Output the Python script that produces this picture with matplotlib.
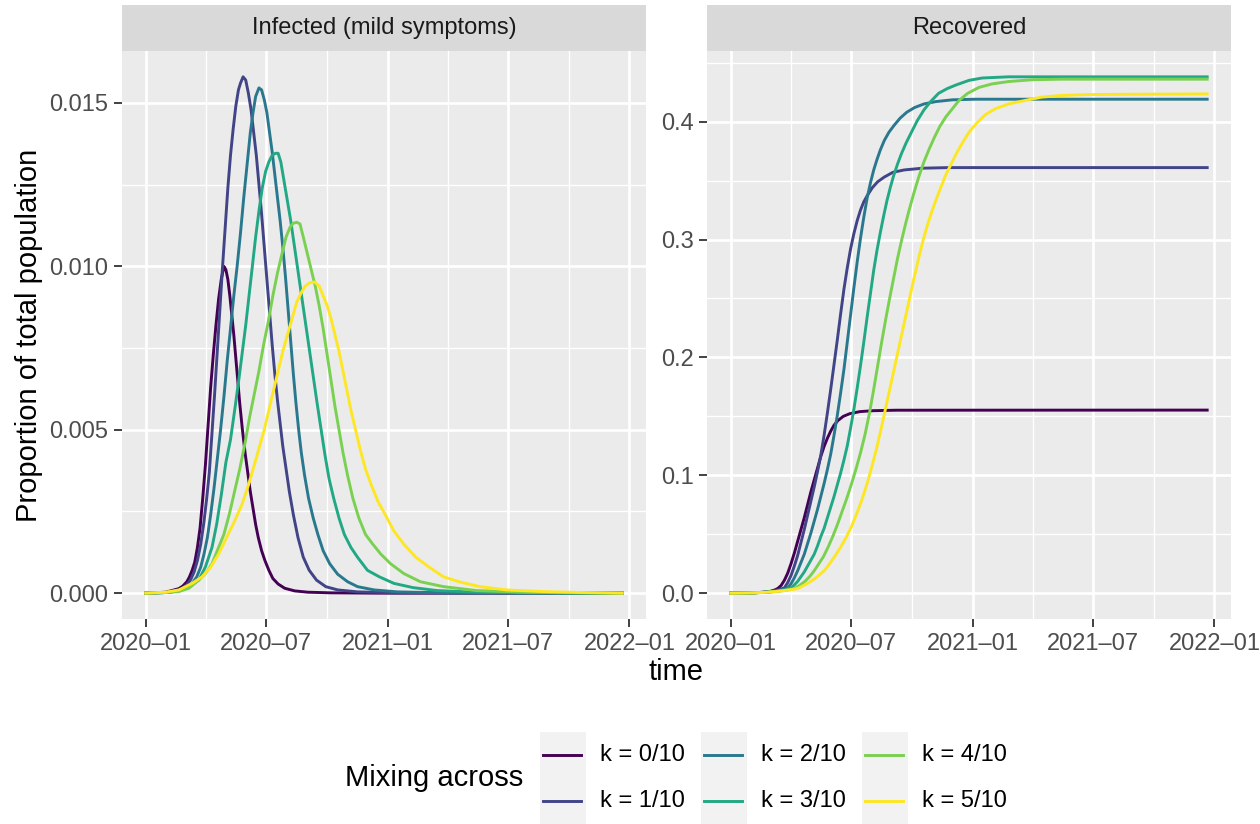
import numpy as np
import pandas as pd
import matplotlib
matplotlib.use('Agg')
import matplotlib.pyplot as plt
import matplotlib.dates as mdates
from matplotlib.patches import Rectangle
from matplotlib.lines import Line2D

plt.rcParams['font.family'] = ['Liberation Sans', 'DejaVu Sans']

t0 = pd.Timestamp('2020-01-01')
end_day = 720

k_labels = ['k = 0/10', 'k = 1/10', 'k = 2/10', 'k = 3/10', 'k = 4/10', 'k = 5/10']
panel_titles = ['Infected (mild symptoms)', 'Recovered']
x_breaks = ['2020-01-01', '2020-07-01', '2021-01-01', '2021-07-01', '2022-01-01']
x_minor = ['2020-04-01', '2020-10-01', '2021-04-01', '2021-10-01']

## infected (mild), days since 2020-01-01 and proportion
inf_day_k0 = [0, 30, 50, 56, 62, 66, 70, 74, 78, 82, 86, 90, 94, 98, 102, 106, 110, 114, 118, 121, 124, 127,
              130, 133, 136, 139, 142, 146, 150, 154, 158, 162, 166, 170, 175, 180, 186, 192, 200, 210, 225,
              245, 280, 350, 720]
inf_k0 = [0, 0.00003, 0.00014, 0.00022, 0.00035, 0.0005, 0.0007, 0.00095, 0.0014, 0.002, 0.0029, 0.0039,
          0.0051, 0.0063, 0.0073, 0.0082, 0.0090, 0.0096, 0.0100, 0.0099, 0.0096, 0.0091, 0.0085, 0.0079,
          0.0072, 0.0065, 0.0058, 0.0050, 0.0043, 0.0037, 0.0031, 0.0026, 0.0021, 0.0017, 0.0013, 0.0010,
          0.0007, 0.00045, 0.00028, 0.00015, 0.00007, 0.00003, 0.00001, 0, 0]

inf_day_k1 = [0, 30, 45, 55, 62, 68, 73, 78, 83, 88, 92, 96, 100, 104, 108, 112, 116, 120, 124, 128, 132, 136,
              140, 143, 147, 151, 155, 159, 163, 167, 171, 175, 179, 183, 187, 191, 195, 199, 203, 207, 212,
              217, 223, 230, 238, 247, 258, 272, 290, 320, 380, 720]
inf_k1 = [0, 0.00002, 0.00006, 0.00014, 0.00026, 0.00042, 0.00065, 0.001, 0.0015, 0.0022, 0.0029, 0.0037,
          0.0049, 0.0061, 0.0074, 0.0087, 0.0100, 0.0112, 0.0124, 0.0134, 0.0142, 0.0149, 0.0154, 0.0156,
          0.0158, 0.0157, 0.0153, 0.0148, 0.0141, 0.0134, 0.0125, 0.0116, 0.0106, 0.0096, 0.0086, 0.0076,
          0.0067, 0.0059, 0.0052, 0.0045, 0.0038, 0.0031, 0.0024, 0.0017, 0.0011, 0.0007, 0.0004, 0.0002,
          0.0001, 0.00004, 0.00001, 0]

inf_day_k2 = [0, 30, 50, 60, 70, 77, 83, 88, 93, 98, 103, 108, 113, 118, 123, 128, 133, 138, 143, 148, 153,
              158, 162, 166, 171, 175, 179, 183, 187, 191, 195, 199, 203, 207, 211, 215, 219, 223, 227, 231,
              235, 240, 246, 253, 260, 268, 278, 290, 305, 320, 345, 380, 450, 720]
inf_k2 = [0, 0.00002, 0.00007, 0.00015, 0.0003, 0.0005, 0.0008, 0.0012, 0.0017, 0.0024, 0.0032, 0.0041,
          0.005, 0.006, 0.0071, 0.0081, 0.0091, 0.0100, 0.0110, 0.0121, 0.0131, 0.0141, 0.0147, 0.0152,
          0.01546, 0.0154, 0.0151, 0.0147, 0.0141, 0.0135, 0.0128, 0.0121, 0.0114, 0.0106, 0.0097, 0.0087,
          0.0077, 0.0067, 0.0058, 0.0050, 0.0043, 0.0036, 0.0029, 0.0023, 0.0018, 0.0013, 0.0009, 0.00058,
          0.00035, 0.0002, 0.0001, 0.00004, 0.00001, 0]

inf_day_k3 = [0, 30, 50, 65, 80, 90, 100, 107, 114, 121, 128, 135, 141, 146, 151, 156, 161, 166, 171, 176,
              181, 186, 191, 196, 200, 204, 209, 214, 219, 224, 229, 234, 239, 244, 249, 254, 259, 265, 271,
              277, 284, 292, 300, 310, 320, 335, 353, 375, 404, 440, 500, 580, 720]
inf_k3 = [0, 0.00002, 0.00007, 0.0002, 0.0004, 0.0008, 0.0014, 0.0021, 0.003, 0.0040, 0.0047, 0.0057,
          0.0066, 0.0074, 0.0082, 0.0091, 0.0100, 0.0109, 0.0117, 0.0124, 0.0129, 0.0132, 0.0134, 0.01346,
          0.01346, 0.0132, 0.0126, 0.0120, 0.0114, 0.0107, 0.0100, 0.0093, 0.0086, 0.0079, 0.0072, 0.0065,
          0.0058, 0.0050, 0.0042, 0.0035, 0.0029, 0.0023, 0.0018, 0.0014, 0.0011, 0.0007, 0.0005, 0.0003,
          0.00017, 0.00008, 0.00003, 0.00001, 0]

inf_day_k4 = [0, 30, 50, 65, 80, 90, 100, 110, 118, 126, 134, 142, 150, 157, 164, 171, 178, 185, 192, 199,
              206, 212, 218, 223, 228, 233, 238, 244, 250, 256, 262, 268, 274, 280, 286, 292, 298, 305, 313,
              322, 332, 343, 355, 370, 390, 415, 450, 500, 570, 650, 720]
inf_k4 = [0, 0.00002, 0.00005, 0.00015, 0.0004, 0.0006, 0.0009, 0.0014, 0.0018, 0.0024, 0.0031, 0.0038,
          0.0046, 0.0054, 0.0061, 0.0068, 0.0076, 0.0083, 0.0091, 0.0098, 0.0104, 0.0109, 0.0112, 0.01132,
          0.01135, 0.0113, 0.0109, 0.0104, 0.0099, 0.0094, 0.0088, 0.0081, 0.0073, 0.0065, 0.0057, 0.0050,
          0.0043, 0.0036, 0.0029, 0.0023, 0.0018, 0.0015, 0.0012, 0.0009, 0.0006, 0.00035, 0.0002, 0.00008,
          0.00003, 0.00001, 0]

inf_day_k5 = [0, 30, 50, 70, 85, 98, 110, 122, 134, 145, 155, 165, 172, 179, 186, 193, 200, 207, 214, 221,
              228, 235, 241, 248, 255, 262, 268, 274, 280, 286, 292, 298, 304, 310, 317, 324, 332, 341, 351,
              362, 375, 390, 408, 428, 450, 475, 505, 545, 600, 660, 720]
inf_k5 = [0, 0.00003, 0.0001, 0.0003, 0.0005, 0.0008, 0.0012, 0.0017, 0.0022, 0.0027, 0.0033, 0.0040,
          0.0045, 0.0050, 0.0056, 0.0062, 0.0068, 0.0074, 0.0079, 0.0084, 0.0089, 0.0092, 0.0094, 0.0095,
          0.00952, 0.0094, 0.0091, 0.0088, 0.0084, 0.0079, 0.0074, 0.0068, 0.0062, 0.0056, 0.0050, 0.0044,
          0.0038, 0.0033, 0.0028, 0.0024, 0.0019, 0.0015, 0.0011, 0.0008, 0.0005, 0.00034, 0.0002, 0.0001,
          0.00005, 0.00002, 0]

## recovered, days since 2020-01-01 and proportion
rec_day_k0 = [0, 30, 50, 60, 66, 71, 76, 81, 86, 91, 96, 101, 106, 111, 116, 121, 126, 131, 136, 141, 146,
              151, 156, 162, 170, 180, 195, 215, 250, 720]
rec_k0 = [0, 0.0002, 0.0008, 0.0016, 0.0026, 0.004, 0.0065, 0.011, 0.017, 0.025, 0.034, 0.044, 0.054, 0.064,
          0.075, 0.086, 0.096, 0.106, 0.116, 0.1245, 0.1315, 0.1375, 0.1425, 0.1465, 0.1500, 0.1523, 0.1540,
          0.1548, 0.1552, 0.1553]

rec_day_k1 = [0, 30, 50, 62, 70, 76, 81, 86, 91, 96, 101, 106, 111, 116, 121, 126, 131, 136, 141, 146, 151,
              156, 161, 166, 171, 176, 181, 186, 191, 196, 201, 207, 214, 222, 232, 245, 262, 290, 330, 720]
rec_k1 = [0, 0.0002, 0.0008, 0.0016, 0.0025, 0.0035, 0.0045, 0.009, 0.015, 0.023, 0.032, 0.043, 0.054,
          0.066, 0.078, 0.090, 0.103, 0.117, 0.134, 0.153, 0.173, 0.194, 0.215, 0.237, 0.258, 0.276, 0.292,
          0.305, 0.316, 0.325, 0.332, 0.338, 0.344, 0.349, 0.353, 0.357, 0.359, 0.3605, 0.361, 0.361]

rec_day_k2 = [0, 30, 50, 65, 75, 81, 86, 91, 96, 101, 106, 111, 116, 121, 126, 131, 136, 141, 146, 151, 156,
              161, 166, 171, 176, 181, 186, 191, 196, 201, 206, 211, 216, 221, 226, 232, 239, 247, 256, 266,
              278, 292, 310, 335, 370, 720]
rec_k2 = [0, 0.0002, 0.0007, 0.0015, 0.0025, 0.0033, 0.0045, 0.008, 0.013, 0.019, 0.026, 0.033, 0.042, 0.051,
          0.061, 0.071, 0.082, 0.093, 0.105, 0.118, 0.134, 0.151, 0.170, 0.190, 0.213, 0.236, 0.259, 0.281,
          0.301, 0.319, 0.335, 0.348, 0.359, 0.368, 0.376, 0.384, 0.391, 0.397, 0.403, 0.408, 0.412, 0.415,
          0.417, 0.4185, 0.419, 0.419]

rec_day_k3 = [0, 30, 50, 65, 78, 86, 91, 96, 101, 106, 111, 116, 121, 126, 131, 136, 141, 146, 151, 156, 161,
              166, 171, 176, 181, 186, 191, 196, 201, 206, 211, 216, 221, 226, 231, 236, 241, 246, 252, 258,
              265, 273, 282, 292, 302, 314, 327, 340, 360, 380, 420, 720]
rec_k3 = [0, 0.0002, 0.0007, 0.0014, 0.0025, 0.0035, 0.0045, 0.007, 0.010, 0.014, 0.018, 0.023, 0.028, 0.033,
          0.040, 0.048, 0.055, 0.064, 0.073, 0.082, 0.092, 0.102, 0.113, 0.125, 0.140, 0.156, 0.174, 0.193,
          0.213, 0.234, 0.254, 0.274, 0.291, 0.306, 0.320, 0.333, 0.344, 0.354, 0.364, 0.373, 0.382, 0.391,
          0.401, 0.410, 0.417, 0.424, 0.428, 0.431, 0.435, 0.437, 0.438, 0.438]

rec_day_k4 = [0, 30, 50, 65, 80, 90, 97, 105, 112, 119, 126, 133, 140, 147, 154, 161, 168, 175, 182, 189, 196,
              203, 210, 216, 222, 228, 234, 240, 246, 252, 258, 264, 270, 277, 284, 292, 300, 308, 316, 325,
              335, 345, 358, 375, 395, 420, 455, 500, 720]
rec_k4 = [0, 0.0002, 0.0007, 0.0013, 0.0022, 0.0032, 0.0042, 0.007, 0.010, 0.014, 0.019, 0.025, 0.031, 0.039,
          0.048, 0.058, 0.069, 0.080, 0.092, 0.105, 0.119, 0.135, 0.154, 0.173, 0.193, 0.213, 0.232, 0.250,
          0.267, 0.284, 0.299, 0.313, 0.326, 0.340, 0.353, 0.366, 0.377, 0.387, 0.396, 0.404, 0.411, 0.418,
          0.424, 0.429, 0.432, 0.434, 0.4355, 0.436, 0.436]

rec_day_k5 = [0, 30, 50, 70, 85, 95, 102, 110, 118, 126, 134, 142, 150, 158, 166, 174, 182, 190, 198, 206,
              213, 220, 227, 234, 241, 248, 255, 262, 269, 276, 283, 290, 297, 304, 311, 318, 325, 333, 341,
              350, 360, 372, 385, 400, 420, 445, 470, 500, 540, 720]
rec_k5 = [0, 0.0002, 0.0006, 0.0015, 0.0025, 0.0033, 0.0042, 0.0065, 0.009, 0.012, 0.0155, 0.0195, 0.0255,
          0.032, 0.039, 0.047, 0.056, 0.067, 0.079, 0.093, 0.107, 0.122, 0.139, 0.157, 0.175, 0.193, 0.211,
          0.229, 0.247, 0.265, 0.282, 0.298, 0.312, 0.324, 0.335, 0.345, 0.355, 0.364, 0.373, 0.382, 0.391,
          0.399, 0.406, 0.411, 0.415, 0.418, 0.4208, 0.4222, 0.423, 0.4235]

inf_days = [inf_day_k0, inf_day_k1, inf_day_k2, inf_day_k3, inf_day_k4, inf_day_k5]
inf_vals = [inf_k0, inf_k1, inf_k2, inf_k3, inf_k4, inf_k5]
rec_days = [rec_day_k0, rec_day_k1, rec_day_k2, rec_day_k3, rec_day_k4, rec_day_k5]
rec_vals = [rec_k0, rec_k1, rec_k2, rec_k3, rec_k4, rec_k5]

## viridis, 6 levels
colors = ['#440154', '#414487', '#2A788E', '#22A884', '#7AD151', '#FDE725']

W, H = 1260, 824


def px_box(x0, y0, x1, y1):
    # pixel box (top-left origin) to figure fraction
    return [x0 / W, 1 - y1 / H, (x1 - x0) / W, (y1 - y0) / H]


def style_panel(ax, y_major, y_minor, y_fmt, ymax):
    base = mdates.date2num(t0)
    ax.set_facecolor('#EBEBEB')
    for s in ax.spines.values():
        s.set_visible(False)
    ax.set_xlim(base - 0.05 * end_day, base + 1.05 * end_day)
    ax.set_ylim(-0.05 * ymax, 1.05 * ymax)
    xb = mdates.date2num(pd.to_datetime(x_breaks))
    ax.set_xticks(xb)
    ax.set_xticklabels([pd.Timestamp(d).strftime('%Y\u2013%m') for d in x_breaks])
    ax.set_xticks(mdates.date2num(pd.to_datetime(x_minor)), minor=True)
    ax.set_yticks(y_major)
    ax.set_yticklabels([y_fmt.format(v) for v in y_major])
    ax.set_yticks(y_minor, minor=True)
    ax.grid(which='major', color='white', lw=1.9)
    ax.grid(which='minor', color='white', lw=1.0)
    ax.set_axisbelow(True)
    ax.tick_params(which='major', length=5.5, width=1.3, color='#333333', labelcolor='#4D4D4D',
                   labelsize=17, pad=4.3)
    ax.tick_params(which='minor', length=0)


fig = plt.figure(figsize=(W / 100, H / 100), dpi=100)

ax_l = fig.add_axes(px_box(122, 51, 646, 619))
ax_r = fig.add_axes(px_box(707, 51, 1231, 619))

for days, vals, c in zip(inf_days, inf_vals, colors):
    ax_l.plot(mdates.date2num(t0) + np.array(days), vals, color=c, lw=2.1, solid_joinstyle='round')
for days, vals, c in zip(rec_days, rec_vals, colors):
    ax_r.plot(mdates.date2num(t0) + np.array(days), vals, color=c, lw=2.1, solid_joinstyle='round')

style_panel(ax_l, [0, 0.005, 0.010, 0.015], [0.0025, 0.0075, 0.0125], '{:.3f}', max(max(v) for v in inf_vals))
style_panel(ax_r, [0, 0.1, 0.2, 0.3, 0.4], [0.05, 0.15, 0.25, 0.35, 0.45], '{:.1f}', max(max(v) for v in rec_vals))

## facet strips
for (x0, x1), title in zip([(122, 646), (707, 1231)], panel_titles):
    b = px_box(x0, 5, x1, 51)
    fig.patches.append(Rectangle((b[0], b[1]), b[2], b[3], transform=fig.transFigure,
                                 facecolor='#D9D9D9', edgecolor='none'))
    fig.text((x0 + x1) / 2 / W, 1 - 28 / H, title, ha='center', va='center', size=17, color='#1A1A1A')

## axis titles
fig.text(676 / W, 1 - 672 / H, 'time', ha='center', va='center', size=21)
fig.text(29 / W, 1 - 335 / H, 'Proportion of total population', ha='center', va='center',
         rotation=90, size=21)

## legend at the bottom, filled by column
fig.text(345 / W, 1 - 778 / H, 'Mixing across', ha='left', va='center', size=21)
key_x = [540, 701, 862]
key_y = [732, 778]
for i, (lab, c) in enumerate(zip(k_labels, colors)):
    col, row = i // 2, i % 2
    kx, ky = key_x[col], key_y[row]
    b = px_box(kx, ky, kx + 46, ky + 46)
    fig.patches.append(Rectangle((b[0], b[1]), b[2], b[3], transform=fig.transFigure,
                                 facecolor='#F2F2F2', edgecolor='none'))
    yc = 1 - (ky + 23) / H
    fig.lines.append(Line2D([(kx + 3) / W, (kx + 41) / W], [yc, yc], transform=fig.transFigure,
                            color=c, lw=2.1))
    fig.text((kx + 60) / W, yc, lab, ha='left', va='center', size=17)

fig.savefig('out.png', dpi=100)
